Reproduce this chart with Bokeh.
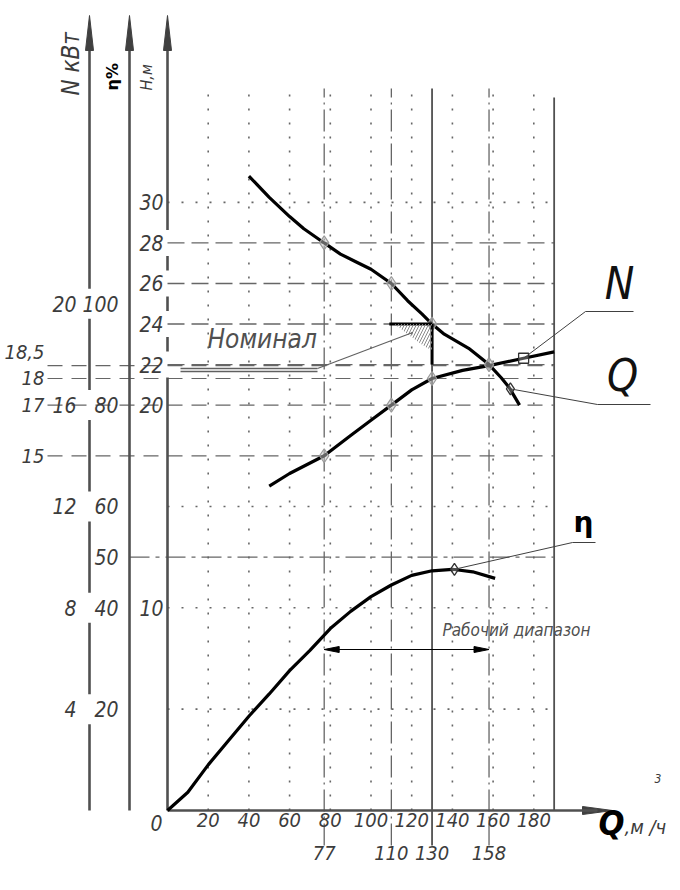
import math
from bokeh.plotting import figure
from bokeh.models import LinearAxis, Range1d, FixedTicker
from bokeh.core.properties import value
from bokeh.embed import file_html
from bokeh.resources import INLINE

# ---------------- data ----------------
Q_TICKS = [20, 40, 60, 80, 100, 120, 140, 160, 180]
Q_MARKED = [77, 110, 130, 158]
H_TICKS = [10, 20, 22, 24, 26, 28, 30]
N_TICKS = [4, 8, 12, 16, 20]
ETA_TICKS = [20, 40, 50, 60, 80, 100]
H_DOTTED = [5, 10, 15, 30]
H_DASHED = [22, 24, 26, 28]

# head curve H(Q), m
q_head = [40, 50, 60, 67, 77, 85, 93, 100, 110, 118, 125, 130, 136, 148, 158, 164, 168, 173]
h_head = [31.3, 30.25, 29.3, 28.7, 28.0, 27.45, 27.05, 26.7, 26.0, 25.15, 24.5, 24.0,
          23.5, 22.8, 22.0, 21.35, 20.85, 20.0]

# power curve N(Q), kW
q_power = [50, 60, 77, 90, 100, 110, 120, 130, 145, 158, 175, 190]
n_power = [12.8, 13.3, 14.0, 14.8, 15.4, 16.0, 16.6, 17.05, 17.37, 17.56, 17.85, 18.1]

# efficiency curve eta(Q), %
q_eff = [0, 10, 20, 30, 40, 50, 60, 70, 80, 90, 100, 110, 120, 130, 140, 150, 161]
eta_eff = [0, 3.6, 9.0, 13.8, 18.6, 23.0, 27.6, 31.6, 35.9, 39.3, 42.2, 44.5, 46.4, 47.3,
           47.6, 47.1, 45.8]

# operating points
H_OPER = [28, 26, 24, 22]
N_OPER = [14.0, 16.0, 17.05, 17.56]
N_OPER_LABELS = ["15", "17", "18", "18,5"]
Q_NOM, H_NOM = 130, 24
ETA_REF = 50
Q_BORDER = 190
N_MARK = (175, 17.85)
Q_MARK = (168.5, 20.8)
ETA_MARK = (141, 47.6)

# ---------------- layout ----------------
W, HT = 676, 886
KX, KY = 2.035, 20.27          # px per m3/h, px per m
OX, OY = 167, 810               # page position of the origin
X0, X1 = -OX / KX, (W - OX) / KX
Y0, Y1 = (OY - HT) / KY, OY / KY
N_PER_H = 0.8      # N scale: 20 kW level with H = 25 m
ETA_PER_H = 4.0    # eta scale: 100 % level with H = 25 m


def dq(px):
    return px / KX


def dh(px):
    return px / KY


def PX(x):
    return dq(x - OX)


def PY(y):
    return dh(OY - y)


FONT = "DejaVu Sans Condensed"
TXT = "#3c3c3c"
AXC = "#505050"
GRID = "#666666"

p = figure(width=W, height=HT, x_range=Range1d(X0, X1), y_range=Range1d(Y0, Y1),
           output_backend="svg", toolbar_location=None,
           x_axis_location=None, y_axis_location=None, min_border=0,
           outline_line_color=None, background_fill_color="white",
           border_fill_color="white")
p.grid.visible = False
p.extra_y_ranges = {"N": Range1d(Y0 * N_PER_H, Y1 * N_PER_H),
                    "eta": Range1d(Y0 * ETA_PER_H, Y1 * ETA_PER_H)}

Q_N_AX = PX(89)
Q_ETA_AX = PX(129)
H_TIP = PY(15)
H_GRID_TOP = PY(88)
H_LOW = PY(845)

# ---------------- grid ----------------
p.segment(x0=Q_TICKS, y0=[0] * len(Q_TICKS), x1=Q_TICKS, y1=[H_GRID_TOP] * len(Q_TICKS),
          line_color=GRID, line_width=1.6, line_dash="2 12")
p.segment(x0=[0] * len(H_DOTTED), y0=H_DOTTED, x1=[Q_BORDER] * len(H_DOTTED), y1=H_DOTTED,
          line_color=GRID, line_width=1.6, line_dash="2 12")
p.segment(x0=[0] * len(H_DASHED), y0=H_DASHED, x1=[Q_BORDER] * len(H_DASHED), y1=H_DASHED,
          line_color=GRID, line_width=1.3, line_dash="17 7")
q_dd = [Q_MARKED[0], Q_MARKED[1], Q_MARKED[3]]
p.segment(x0=q_dd, y0=[H_LOW] * 3, x1=q_dd, y1=[H_GRID_TOP] * 3,
          line_color=GRID, line_width=1.3, line_dash="22 5 2 5")
p.segment(x0=[Q_MARKED[2]], y0=[H_LOW], x1=[Q_MARKED[2]], y1=[H_GRID_TOP],
          line_color=AXC, line_width=1.8)
p.segment(x0=[Q_BORDER], y0=[0], x1=[Q_BORDER], y1=[PY(97)],
          line_color=AXC, line_width=1.8)
# N operating levels (left labels)
p.segment(x0=[PX(47)] * 4, y0=N_OPER, x1=[Q_BORDER] * 4, y1=N_OPER, y_range_name="N",
          line_color=GRID, line_width=1.2, line_dash="15 9")
# eta = 50 % reference
p.segment(x0=[Q_ETA_AX], y0=[ETA_REF], x1=[Q_BORDER], y1=[ETA_REF], y_range_name="eta",
          line_color=GRID, line_width=1.2, line_dash="20 6 4 6")

# ---------------- axis lines with arrows ----------------
ARR_L = dh(35)


def gapped(gaps, lo, hi, half):
    segs, start = [], lo
    for g in sorted(gaps):
        segs.append((start, g - half))
        start = g + half
    segs.append((start, hi))
    return segs


def vsegs(q, segs):
    p.segment(x0=[q] * len(segs), y0=[a for a, b in segs], x1=[q] * len(segs),
              y1=[b for a, b in segs], line_color=AXC, line_width=2.6)


vsegs(Q_N_AX, gapped([t / N_PER_H for t in N_TICKS], 0, H_TIP - ARR_L * 0.5, dh(15)))
vsegs(Q_ETA_AX, [(0, H_TIP - ARR_L * 0.5)])
vsegs(0, gapped([22, 24, 26, 28], 0, H_TIP - ARR_L * 0.5, dh(13)))


def tri(tx, ty, ux, uy, length_px, half_px):
    bx = tx - ux * dq(length_px)
    by = ty - uy * dh(length_px)
    return ([tx, bx - uy * dq(half_px), bx + uy * dq(half_px)],
            [ty, by + ux * dh(half_px), by - ux * dh(half_px)])


heads = [tri(q, H_TIP, 0, 1, 35, 4) for q in (Q_N_AX, Q_ETA_AX, 0)]
Q_TIP = PX(612)
heads.append(tri(Q_TIP, 0, 1, 0, 30, 4))
p.patches(xs=[h[0] for h in heads], ys=[h[1] for h in heads],
          fill_color="#404040", line_color="#404040", line_width=1)
p.segment(x0=[0], y0=[0], x1=[Q_TIP - dq(15)], y1=[0], line_color=AXC, line_width=2.6)

# ---------------- tick-label axes ----------------


def style(ax, ticks, standoff, size):
    ax.ticker = FixedTicker(ticks=ticks)
    ax.axis_line_color = None
    ax.major_tick_line_color = None
    ax.minor_tick_line_color = None
    ax.major_tick_out = 0
    ax.major_tick_in = 0
    ax.major_label_standoff = standoff
    ax.major_label_text_font = FONT
    ax.major_label_text_font_style = "italic"
    ax.major_label_text_font_size = f"{size}px"
    ax.major_label_text_color = TXT


xa = LinearAxis(fixed_location=0)
style(xa, Q_TICKS, 2, 20)
p.add_layout(xa, "below")
xa2 = LinearAxis(fixed_location=H_LOW)
style(xa2, Q_MARKED, 0, 20)
p.add_layout(xa2, "below")
ha = LinearAxis(fixed_location=0)
style(ha, H_TICKS, 4, 21)
p.add_layout(ha, "left")
ea = LinearAxis(fixed_location=Q_ETA_AX, y_range_name="eta")
style(ea, ETA_TICKS, 11, 21)
p.add_layout(ea, "left")
na = LinearAxis(fixed_location=Q_N_AX, y_range_name="N")
style(na, N_TICKS, 13, 21)
p.add_layout(na, "left")


def txt(x, y, s, size, color=TXT, style_="italic", align="left", baseline="middle",
        angle=0.0, rng=None, font=FONT):
    kw = {"y_range_name": rng} if rng else {}
    p.text(x=[x], y=[y], text=[s], text_font=value(font), text_font_size=f"{size}px",
           text_font_style=style_, text_color=color, text_align=align,
           text_baseline=baseline, angle=angle, **kw)


txt(PX(162), PY(822), "0", 21, align="right")

# left N annotation labels
p.text(x=[PX(44)] * 4, y=N_OPER, text=N_OPER_LABELS, y_range_name="N",
       y_offset=[0, 0, 0, -14], text_font=value(FONT), text_font_size="20px",
       text_font_style="italic", text_color=TXT, text_align="right", text_baseline="middle")

# axis titles (rotated)
txt(PX(70), PY(95), "N    кВт", 24, align="left", angle=math.pi / 2)
txt(PX(112), PY(90), "η%", 16, color="#000000", style_="bold", align="left",
    angle=math.pi / 2, font="DejaVu Sans")
txt(PX(146), PY(90), "H,м", 16, align="left", angle=math.pi / 2)

# Q axis title
txt(PX(598), PY(822), "Q", 34, color="#000000", style_="bold italic", align="left")
txt(PX(624), PY(826), ",м /ч", 20, align="left")
txt(PX(654), PY(778), "3", 12, align="left")

# ---------------- curves ----------------
p.line(q_head, h_head, line_color="black", line_width=3.2)
p.line(q_power, n_power, y_range_name="N", line_color="black", line_width=3.2)
p.line(q_eff, eta_eff, y_range_name="eta", line_color="black", line_width=3.2)

# operating-point markers
p.scatter(Q_MARKED, H_OPER, marker="diamond", size=14, fill_color="#c8c8c8",
          fill_alpha=0.5, line_color="#9a9a9a", line_width=1.2)
p.scatter(Q_MARKED[:3], N_OPER[:3], y_range_name="N", marker="diamond", size=14,
          fill_color="#c8c8c8", fill_alpha=0.5, line_color="#9a9a9a", line_width=1.2)

# nominal point
p.segment(x0=[Q_MARKED[1] - 1], y0=[H_NOM], x1=[Q_NOM], y1=[H_NOM], line_color="black", line_width=3)
p.segment(x0=[Q_NOM], y0=[H_NOM], x1=[Q_NOM], y1=[H_NOM - 2], line_color="black", line_width=3)
p.patch(x=[Q_NOM - 18.5, Q_NOM, Q_NOM, Q_NOM - 3, Q_NOM - 8, Q_NOM - 14],
        y=[H_NOM, H_NOM, H_NOM - 1.3, H_NOM - 1.15, H_NOM - 0.8, H_NOM - 0.35],
        fill_color=None, line_color=None, hatch_pattern="/", hatch_color="#8a8a8a",
        hatch_scale=6, hatch_weight=1)
txt(PX(207), PY(338), "Номинал", 26, color="#505050", align="left")
H_UL = PY(368)
p.segment(x0=[PX(180)] * 2, y0=[H_UL, H_UL - dh(3)], x1=[PX(317)] * 2,
          y1=[H_UL, H_UL - dh(3)], line_color="#606060", line_width=1.3)
p.segment(x0=[PX(317)], y0=[H_UL], x1=[Q_NOM - 9.5], y1=[H_NOM - 0.42],
          line_color="#606060", line_width=1.1)

# working range
H_RANGE = PY(649)
p.segment(x0=[Q_MARKED[0]], y0=[H_RANGE], x1=[Q_MARKED[3]], y1=[H_RANGE],
          line_color="black", line_width=1)
rh = [tri(Q_MARKED[0], H_RANGE, -1, 0, 15, 3), tri(Q_MARKED[3], H_RANGE, 1, 0, 15, 3)]
p.patches(xs=[h[0] for h in rh], ys=[h[1] for h in rh], fill_color="black", line_color="black")
txt(PX(442), PY(629), "Рабочий диапазон", 17, color="#505050", align="left")

# leader labels N, Q, eta
hN = N_MARK[1] / N_PER_H
p.scatter([N_MARK[0]], [N_MARK[1]], y_range_name="N", marker="square", size=10,
          fill_color="white", fill_alpha=0.3, line_color="#303030", line_width=1.3)
h_ul_n = PY(311)
p.line([N_MARK[0], PX(585), PX(633)], [hN, h_ul_n, h_ul_n],
       line_color="#404040", line_width=1)
txt(PX(619), PY(308), "N", 44, color="#111111", align="center", baseline="bottom")

p.scatter([Q_MARK[0]], [Q_MARK[1]], marker="diamond", size=12, fill_color="white",
          fill_alpha=0.3, line_color="#303030", line_width=1.3)
h_ul_q = PY(404)
p.line([Q_MARK[0], PX(597), PX(650)], [Q_MARK[1], h_ul_q, h_ul_q],
       line_color="#404040", line_width=1)
txt(PX(622), PY(400), "Q", 44, color="#111111", align="center", baseline="bottom")

hE = ETA_MARK[1] / ETA_PER_H
p.scatter([ETA_MARK[0]], [ETA_MARK[1]], y_range_name="eta", marker="diamond", size=12,
          fill_color="white", fill_alpha=0.3, line_color="#303030", line_width=1.3)
h_ul_e = PY(542)
p.line([ETA_MARK[0], PX(572), PX(595)], [hE, h_ul_e, h_ul_e],
       line_color="#404040", line_width=1)
txt(PX(583), PY(538), "η", 28, color="#000000", style_="bold",
    align="center", baseline="bottom", font="DejaVu Sans")

open("out.html", "w").write(file_html(p, INLINE))
